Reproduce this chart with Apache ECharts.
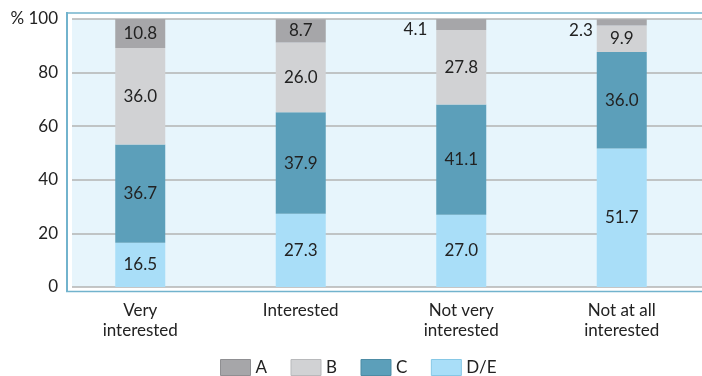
<!DOCTYPE html>
<html>
<head>
<meta charset="utf-8">
<script src="https://cdn.jsdelivr.net/npm/echarts@6/dist/echarts.min.js"></script>
<style>
  html, body { margin: 0; padding: 0; background: #fff; }
  #chart { width: 702px; height: 376px; }
</style>
</head>
<body>
<div id="chart"></div>
<script>
// Interest level groups along the x axis
const categories = ['Very\ninterested', 'Interested', 'Not very\ninterested', 'Not at all\ninterested'];

// Share (%) of each grade within every interest group
const gradeA = [10.8, 8.7, 4.1, 2.3];
const gradeB = [36.0, 26.0, 27.8, 9.9];
const gradeC = [36.7, 37.9, 41.1, 36.0];
const gradeDE = [16.5, 27.3, 27.0, 51.7];

const yTicks = [0, 20, 40, 60, 80, 100];

const FONT = 'Lato, "Noto Sans", sans-serif';
const TEXT = '#222222';

const colors = { A: '#a6a6a9', B: '#d1d2d4', C: '#5c9fba', DE: '#a9def8' };
const borders = { A: '#8f8f92', B: '#b8b9bb', C: '#4d8ca5', DE: '#86c8e6' };

// Small segments get their value written beside the bar
const sideLabels = {
  A: { 2: { offset: [-4, 5.5] }, 3: { offset: [1, 8] } }
};

function toData(values, key) {
  return values.map((v, i) => {
    const side = sideLabels[key] && sideLabels[key][i];
    if (!side) return v;
    return { value: v, label: { position: 'left', distance: 5, offset: side.offset } };
  });
}

function barSeries(name, values, key) {
  return {
    name: name,
    type: 'bar',
    stack: 'total',
    xAxisIndex: 1,
    yAxisIndex: 1,
    barWidth: 50,
    itemStyle: { color: colors[key] },
    label: {
      show: true,
      position: 'inside',
      formatter: p => p.value.toFixed(1),
      color: TEXT,
      fontFamily: FONT,
      fontSize: 17
    },
    emphasis: { disabled: true },
    data: toData(values, key)
  };
}

const chart = echarts.init(document.getElementById('chart'), null, { renderer: 'canvas' });

chart.setOption({
  animation: false,
  backgroundColor: '#ffffff',
  graphic: [
    { type: 'line', shape: { x1: 67, y1: 12, x2: 67, y2: 292 }, style: { stroke: '#72b3cd', lineWidth: 2 } },
    { type: 'line', shape: { x1: 66, y1: 13, x2: 702, y2: 13 }, style: { stroke: '#72b3cd', lineWidth: 1.5 } },
    { type: 'line', shape: { x1: 66, y1: 291.5, x2: 702, y2: 291.5 }, style: { stroke: '#72b3cd', lineWidth: 1.5 } }
  ],
  legend: {
    left: 220,
    top: 359,
    padding: 0,
    itemWidth: 30,
    itemHeight: 16,
    itemGap: 23.5,
    icon: 'rect',
    selectedMode: false,
    textStyle: { color: TEXT, fontFamily: FONT, fontSize: 17 },
    data: [
      { name: 'A', itemStyle: { borderColor: borders.A, borderWidth: 1 } },
      { name: 'B', itemStyle: { borderColor: borders.B, borderWidth: 1 } },
      { name: 'C', itemStyle: { borderColor: borders.C, borderWidth: 1 } },
      { name: 'D/E', itemStyle: { borderColor: borders.DE, borderWidth: 1 } }
    ]
  },
  grid: [
    { left: 72, right: 0, top: 19, bottom: 89, show: true, backgroundColor: '#e7f5fc', borderWidth: 0 },
    { left: 60, right: -12, top: 19, bottom: 89 }
  ],
  xAxis: [
    { gridIndex: 0, type: 'category', data: categories, show: false },
    {
      gridIndex: 1,
      type: 'category',
      data: categories,
      axisLine: { show: false },
      axisTick: { show: false },
      axisLabel: { color: TEXT, fontFamily: FONT, fontSize: 17, lineHeight: 20, margin: 14, interval: 0 }
    }
  ],
  yAxis: [
    {
      gridIndex: 0,
      type: 'value',
      min: yTicks[0],
      max: yTicks[yTicks.length - 1],
      interval: 20,
      axisLine: { show: false },
      axisTick: { show: false },
      axisLabel: {
        color: TEXT,
        fontFamily: FONT,
        fontSize: 17,
        margin: 14,
        formatter: v => (v === 100 ? '% 100' : String(v))
      },
      splitLine: { show: true, lineStyle: { color: '#b3b3b3', width: 1.5 } }
    },
    { gridIndex: 1, type: 'value', min: 0, max: 100, show: false }
  ],
  series: [
    barSeries('D/E', gradeDE, 'DE'),
    barSeries('C', gradeC, 'C'),
    barSeries('B', gradeB, 'B'),
    barSeries('A', gradeA, 'A')
  ]
});
</script>
</body>
</html>
